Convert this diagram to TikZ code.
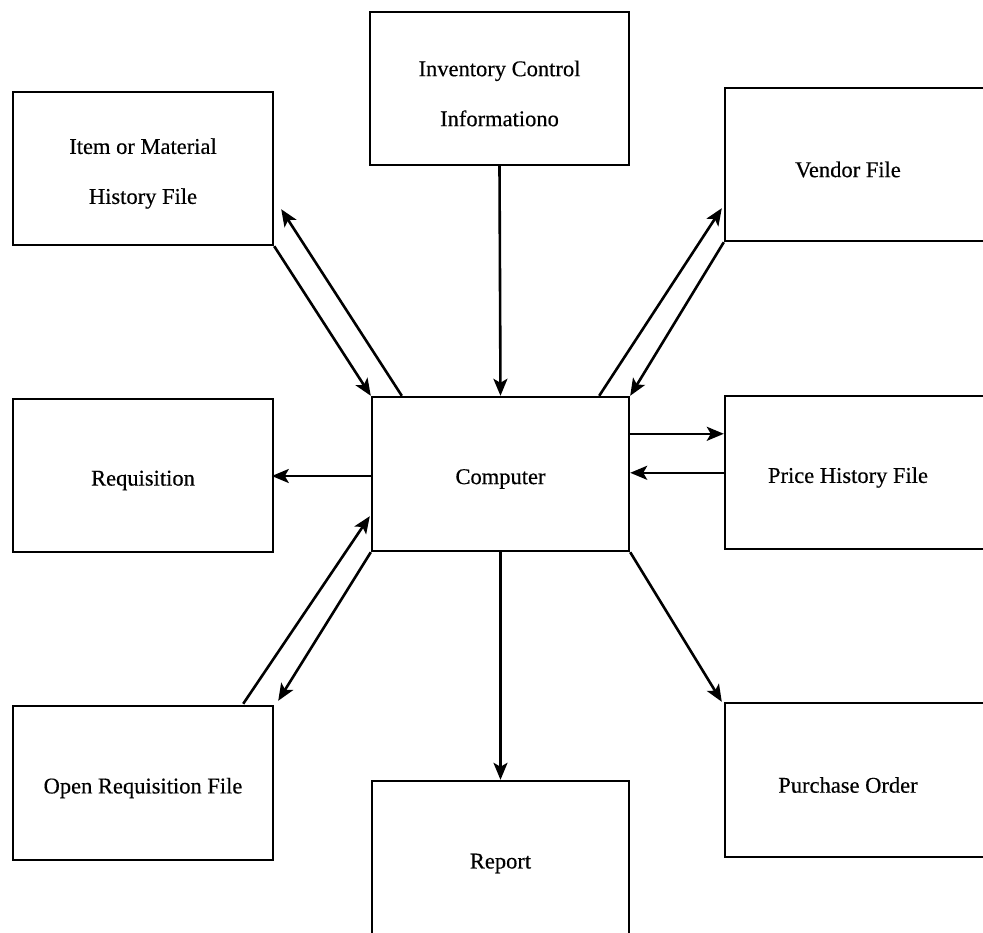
\documentclass[tikz,border=0pt]{standalone}
\usepackage{fontspec}
\setmainfont{Liberation Serif}[FakeBold=0.4]
\usetikzlibrary{arrows.meta,calc}

\tikzset{
  box/.style={draw=black, line width=2.4pt, fill=none, minimum width=#1, minimum height=153pt,
              inner sep=0pt},
  box/.default=259pt,
  txt/.style={align=center, inner sep=0pt, yshift=-5pt, font=\fontsize{22.5}{50}\selectfont},
  txtr/.style={txt, xshift=-8pt},
  flow/.style={draw=black, line width=2.6pt, -{Stealth[length=17pt,width=14pt,inset=4pt]}}
}

\begin{document}
\begin{tikzpicture}[x=1pt, y=-1pt]
  \clip (0,0) rectangle (983,933);
  \fill[white] (0,0) rectangle (983,933);

  % file and document boxes
  \node[box, label={[txt]center:{Inventory Control\\Informationo}}] (inv) at (499.5, 88.5) {};
  \node[box=260pt, label={[txt]center:{Item or Material\\History File}}] (item) at (143, 168.5) {};
  \node[box=262pt, label={[txtr]center:Vendor File}] (vend) at (856, 164.5) {};
  \node[box=260pt, label={[txt]center:Requisition}] (req) at (143, 475.5) {};
  \node[box=257pt, minimum height=154pt, label={[txt]center:Computer}] (comp) at (500.5, 474) {};
  \node[box=262pt, label={[txtr]center:Price History File}] (price) at (856, 472.5) {};
  \node[box=260pt, minimum height=154pt, label={[txt]center:Open Requisition File}] (open) at (143, 783) {};
  \node[box=257pt, minimum height=155pt, label={[txt]center:Report}] (rep) at (500.5, 858.5) {};
  \node[box=262pt, minimum height=154pt, label={[txtr]center:Purchase Order}] (po) at (856, 780) {};

  % data flows
  \draw[flow] (inv.south) -- (comp.north);
  \draw[flow] ($(comp.north west)+(31,0)$) -- ($(item.south east)+(7,-37)$);
  \draw[flow] (item.south east) -- (comp.north west);
  \draw[flow] ($(comp.north east)+(-31,0)$) -- ($(vend.south west)+(-2,-34)$);
  \draw[flow] (vend.south west) -- (comp.north east);
  \draw[flow] ($(comp.west)+(0,2)$) -- ($(comp.west)+(-99,2)$);
  \draw[flow] ($(comp.north east)+(0,38)$) -- ($(price.north west)+(0,39)$);
  \draw[flow] ($(price.north west)+(0,78)$) -- ($(comp.north east)+(0,77)$);
  \draw[flow] ($(open.north east)+(-31,-1)$) -- ($(comp.south west)+(-1,-36)$);
  \draw[flow] (comp.south west) -- ($(open.north east)+(4,-4)$);
  \draw[flow] (comp.south) -- (rep.north);
  \draw[flow] (comp.south east) -- ($(po.north west)+(-2,0)$);
\end{tikzpicture}
\end{document}
